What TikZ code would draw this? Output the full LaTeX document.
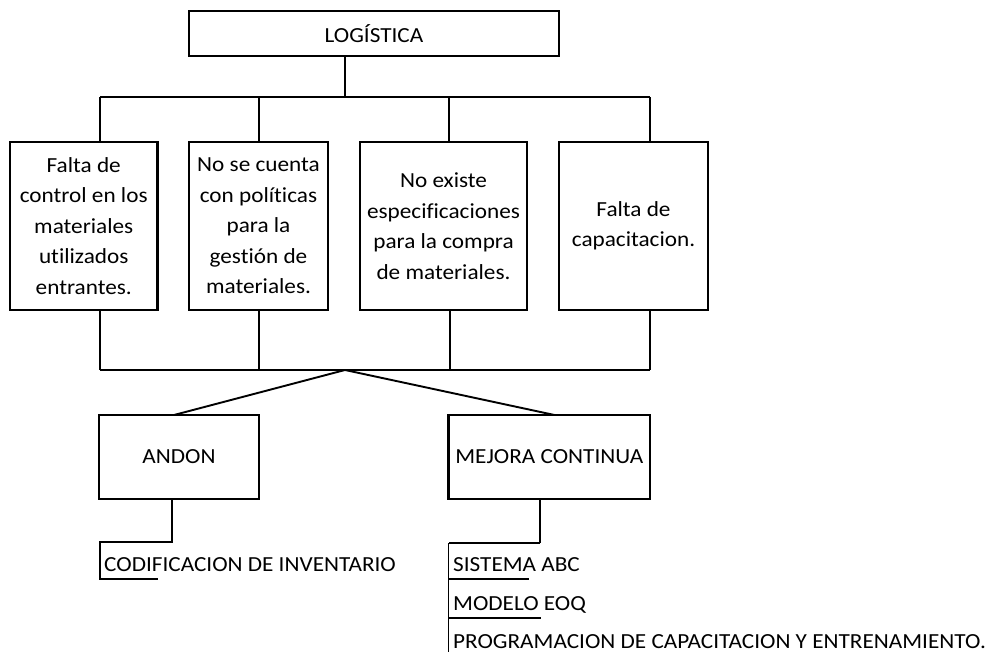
\documentclass[tikz,border=0pt]{standalone}
\usepackage{fontspec}
\setmainfont{Carlito}[FakeStretch=1.08,Ligatures=NoCommon]
\begin{document}
\begin{tikzpicture}[x=1pt,y=-1pt,
  boxn/.style={draw,line width=2.4pt,inner sep=0pt,outer sep=0pt,align=center,
    font=\fontsize{21.5}{30.5}\selectfont},
  conn/.style={line width=1.9pt},
  thk/.style={line width=2.7pt},
  lbl/.style={anchor=base west,inner sep=0pt,font=\fontsize{21.5}{24}\selectfont}]
\useasboundingbox (0,0) rectangle (1000,652);
\node[boxn,minimum width=370pt,minimum height=45pt] (log) at (374,33.5) {LOGÍSTICA};
\node[boxn,minimum width=147.5pt,minimum height=168pt] (b1) at (83.75,226)
  {Falta de\\control en los\\materiales\\utilizados\\entrantes.};
\node[boxn,minimum width=139pt,minimum height=168pt] (b2) at (258.5,226)
  {No se cuenta\\con políticas\\para la\\gestión de\\materiales.};
\node[boxn,minimum width=167pt,minimum height=168pt] (b3) at (443.5,226)
  {No existe\\especificaciones\\para la compra\\de materiales.};
\node[boxn,minimum width=149pt,minimum height=168pt] (b4) at (633.5,226)
  {Falta de\\capacitacion.};
\node[boxn,minimum width=160pt,minimum height=84pt] (andon) at (179,457) {ANDON};
\node[boxn,minimum width=201.5pt,minimum height=84pt] (mejora) at (549.25,457) {MEJORA CONTINUA};
\node[lbl] (cod) at (104,571) {CODIFICACION DE INVENTARIO};
\node[lbl] (sis) at (453,571) {SISTEMA ABC};
\node[lbl] (mod) at (453,610) {MODELO EOQ};
\node[lbl] (prog) at (453,648) {PROGRAMACION DE CAPACITACION Y ENTRENAMIENTO.};
% junction coordinates
\coordinate (tj) at (345,97);
\coordinate (x1) at (100,97);
\coordinate (x2) at (259,97);
\coordinate (x3) at (449,97);
\coordinate (x4) at (650,97);
\coordinate (bj) at (345,370);
\coordinate (y1) at (100,370);
\coordinate (y2) at (259,370);
\coordinate (y3) at (450,370);
\coordinate (y4) at (650,370);
\coordinate (at) at (174,0);
\coordinate (mt) at (554.5,0);
\coordinate (ad) at (172,0);
\coordinate (md) at (540,0);
\coordinate (ka) at (100,542);
\coordinate (kb) at (158,579);
\coordinate (ma) at (448.5,543);
\coordinate (mb) at (448.5,652);
\coordinate (s1) at (529,579);
\coordinate (s2) at (541,618);
% top tree
\draw[conn] (log.south -| tj) -- (tj);
\draw[conn] (x1) -- (x4);
\foreach \i in {1,2,3,4} {\draw[conn] (b\i.north -| x\i) -- (x\i);}
% bottom tree
\foreach \i in {1,2,3,4} {\draw[conn] (b\i.south -| y\i) -- (y\i);}
\draw[conn] (y1) -- (y4);
\draw[conn] (bj) -- (andon.north -| at);
\draw[conn] (bj) -- (mejora.north -| mt);
% andon branch
\draw[conn] (andon.south -| ad) |- (ka) |- (kb);
% mejora branch
\draw[conn] (mejora.south -| md) -- (md |- ma);
\draw[thk] (md |- ma) -- (ma);
\draw[conn] (ma) -- (mb);
\draw[thk] (s1 -| ma) -- (s1);
\draw[thk] (s2 -| ma) -- (s2);
\end{tikzpicture}
\end{document}
